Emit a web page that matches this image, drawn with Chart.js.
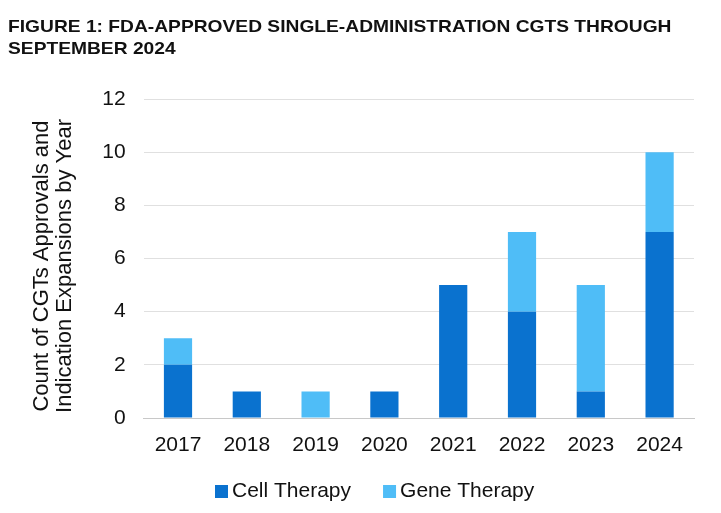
<!DOCTYPE html>
<html>
<head>
<meta charset="utf-8">
<script src="https://cdn.jsdelivr.net/npm/chart.js@4.4.1/dist/chart.umd.min.js"></script>
<style>
  html, body { margin: 0; padding: 0; background: #fff; }
  #wrap { position: relative; width: 721px; height: 513px; overflow: hidden; }
  #title {
    position: absolute; left: 8px; top: 16px; z-index: 2;
    font: bold 17px "Liberation Sans", Arial, sans-serif;
    line-height: 21.5px; color: #111; white-space: nowrap;
    transform: scaleX(1.13); transform-origin: 0 0;
  }
  canvas { position: absolute; left: 0; top: 0; }
</style>
</head>
<body>
<div id="wrap">
  <div id="title">FIGURE 1: FDA-APPROVED SINGLE-ADMINISTRATION CGTS THROUGH<br>SEPTEMBER 2024</div>
  <canvas id="chart" width="721" height="513"></canvas>
</div>
<script>
const years = ['2017', '2018', '2019', '2020', '2021', '2022', '2023', '2024'];
const cellTherapy = [2, 1, 0, 1, 5, 4, 1, 7];
const geneTherapy = [1, 0, 1, 0, 0, 3, 4, 3];
const yTicks = [0, 2, 4, 6, 8, 10, 12];
const yTitle = ['Count of CGTs Approvals and', 'Indication Expansions by Year'];

const FONT = '"Liberation Sans", Arial, sans-serif';

// y axis title drawn by hand so both lines sit where the reference has them
const yTitlePlugin = {
  id: 'yTitle',
  afterDraw(chart) {
    const ctx = chart.ctx;
    ctx.save();
    ctx.translate(0, 266);
    ctx.rotate(-Math.PI / 2);
    ctx.font = '22px ' + FONT;
    ctx.fillStyle = '#111';
    ctx.textAlign = 'center';
    ctx.textBaseline = 'middle';
    ctx.fillText(yTitle[0], 0, 42);
    ctx.fillText(yTitle[1], 0, 65);
    ctx.restore();
  },
};

// legend with the tight box/text gap of the reference
const legendPlugin = {
  id: 'bottomLegend',
  afterDraw(chart) {
    const ctx = chart.ctx;
    ctx.save();
    ctx.font = '21px ' + FONT;
    ctx.textBaseline = 'middle';
    let x = 215;
    const y = 491.5;
    chart.data.datasets.forEach((ds) => {
      ctx.fillStyle = ds.backgroundColor;
      ctx.fillRect(x, y - 6.5, 13, 13);
      ctx.fillStyle = '#111';
      ctx.fillText(ds.label, x + 17, y);
      x += 17 + ctx.measureText(ds.label).width + 32;
    });
    ctx.restore();
  },
};

new Chart(document.getElementById('chart'), {
  type: 'bar',
  data: {
    labels: years,
    datasets: [
      { label: 'Cell Therapy', data: cellTherapy, backgroundColor: '#0A72CF', barPercentage: 0.41, categoryPercentage: 1 },
      { label: 'Gene Therapy', data: geneTherapy, backgroundColor: '#4FBDF7', barPercentage: 0.41, categoryPercentage: 1 },
    ],
  },
  plugins: [yTitlePlugin, legendPlugin],
  options: {
    responsive: false,
    animation: false,
    layout: { padding: { top: 99, right: 27, left: 0, bottom: 59 } },
    plugins: {
      legend: { display: false },
      tooltip: { enabled: false },
    },
    scales: {
      x: {
        stacked: true,
        grid: { display: false },
        border: { color: '#c8c8c8' },
        ticks: { color: '#111', font: { family: FONT, size: 21 }, padding: 7 },
        afterFit: (s) => { s.height = 36; },
      },
      y: {
        stacked: true,
        min: 0, max: 12,
        afterBuildTicks: (s) => { s.ticks = yTicks.map((v) => ({ value: v })); },
        grid: { color: '#e0e0e0', drawTicks: false },
        border: { display: false },
        ticks: { color: '#111', font: { family: FONT, size: 21 }, padding: 18 },
        afterFit: (s) => { s.width = 143.6; },
      },
    },
  },
});
</script>
</body>
</html>
